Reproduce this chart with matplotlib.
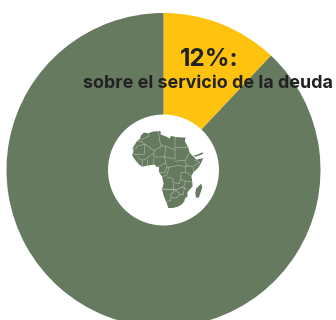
import matplotlib
matplotlib.use("Agg")
import matplotlib.pyplot as plt
from matplotlib.patches import Circle, Polygon

# Shares of the budget
shares = [12, 88]
share_colors = ["#FFC20E", "#667A60"]
headline = "12%:"
caption = "sobre el servicio de la deuda"

# Simplified geography in lon/lat
africa = [(-5.9,35.8),(-2,35.1),(3,36.8),(10,37.3),(10.2,34),(15,32.3),(19,30.3),(20,32.7),(25,31.6),
          (32,31.2),(34.2,31.3),(33.5,28),(35.5,24),(37.2,21),(37.5,18.5),(39.5,15.5),(43.2,12),(43.3,11.5),
          (44.5,10.5),(51.2,11.9),(49,7),(46,2.5),(41.5,-1.7),(39.8,-5),(40.5,-9),(41,-14.5),(36,-20),
          (36,-24),(33.5,-26),(33,-28.5),(31,-31),(27,-33.5),(22,-34.8),(17.5,-34.8),(16,-30),(14.5,-27),(13,-23),
          (11.5,-17),(13,-12),(11.5,-5.5),(8.5,-1),(8.5,2.5),(8,4),(6,3.6),(4.5,5.8),(1,5.4),(-4,4.7),
          (-7.5,3.9),(-11.5,6.5),(-15,11),(-17.4,14.7),(-16,19),(-17,21),(-13,27.5),(-9.7,30),(-9,33)]
madagascar = [(49.3,-12),(50.4,-15.5),(47,-25),(44.5,-25.3),(43.5,-21),(44.5,-16.5)]
arabian_coast = [(42.6,15),(44,14.6),(50.5,17.3),(51.3,16.2),(49,15),(44,13.2),(42.8,13.4)]
borders = [
    [(-9,29),(-1,32.5),(-2,35.1)], [(-13,27.5),(-8.7,27.5),(-4.8,25),(3.3,19),(4.2,19.2),(12,23.5)],
    [(8,37),(9,30),(10,24.5),(12,23.5),(15,23),(24,19.5),(24,29.8),(25,31.6)], [(24,22),(36.8,22)],
    [(-17,21),(-13,21.3),(-13,23),(-5,25)], [(-16.5,16),(-12,15),(-5.5,15.5),(-5,25)],
    [(4.2,19.2),(3.5,15.3),(1,15),(-5.5,10.5),(-8,10),(-12,12.5)], [(3.5,15.3),(4,13),(14,13),(15,23)],
    [(3,6),(3.6,11.5)], [(-3,4.9),(-3,11)], [(-8,4.1),(-8,10)], [(-13,9),(-11,7)],
    [(14,13),(15,7.5),(8.5,4)], [(14,13),(24,11),(24,19.5)], [(15,7.5),(16,3),(18.5,3.5),(27,5),(34,4),(36,4.5)],
    [(24,9),(34,10),(36.5,14.5),(38.5,18)], [(34,10),(35,5),(41,4),(43,5),(48,8),(43,10)], [(41,4),(41,-1.7)],
    [(34,4),(34,-1),(39.8,-4.7)], [(30,-1),(34,-1)], [(30,-1),(29.5,-8),(34,-9.5),(40.5,-10.5)],
    [(16,3),(14,-2),(8.5,-1)], [(18.5,3.5),(16,-4),(11.5,-5.5)], [(16,-6),(22,-7),(22,-11),(28,-12),(29.5,-8)],
    [(13,-17),(22,-17.5),(25,-18),(30,-15.5),(33,-14),(34,-9.5)], [(22,-11),(22,-17.5)],
    [(11.5,-17),(25,-17.8),(20,-22),(20,-28),(16,-28.5)], [(25,-18),(29,-22),(32,-22.5),(33,-15.5)],
    [(20,-25),(25,-25.5),(29,-22)], [(30,-15.5),(36,-17)],
]

land = "#667A60"
line = "#B5C0B0"

fig = plt.figure(figsize=(3.36, 3.2), dpi=100)
ax = fig.add_axes([0, 0, 1, 1])
ax.pie(shares, colors=share_colors, center=(163.5, 150), radius=157, startangle=90,
       counterclock=False, wedgeprops={"linewidth": 0})
ax.add_patch(Circle((163.5, 150), 55.5, facecolor="white", edgecolor="none", zorder=3))
ax.set_xlim(0, 336)
ax.set_ylim(0, 320)
ax.set_aspect("equal")
ax.axis("off")

ax.text(209, 260.5, headline, ha="center", va="center", fontsize=17.5, fontweight="bold",
        family="Inter", color="#222222", zorder=5)
ax.text(208, 237, caption, ha="center", va="center", fontsize=12.9, fontweight="bold",
        family="Inter", color="#222222", zorder=5)

# Map inset, in lon/lat
mp = fig.add_axes([132 / 336, 1 - 208 / 320, 71.5 / 336, 77 / 320], zorder=6)
mp.set_xlim(-17.5, 51.5)
mp.set_ylim(-34.8, 37.3)
mp.axis("off")
for shape in (africa, madagascar, arabian_coast):
    mp.add_patch(Polygon(shape, closed=True, facecolor=land, edgecolor="none"))
for b in borders:
    mp.plot(*zip(*b), color=line, linewidth=0.4, solid_capstyle="round")

fig.savefig("out.png", dpi=100)
